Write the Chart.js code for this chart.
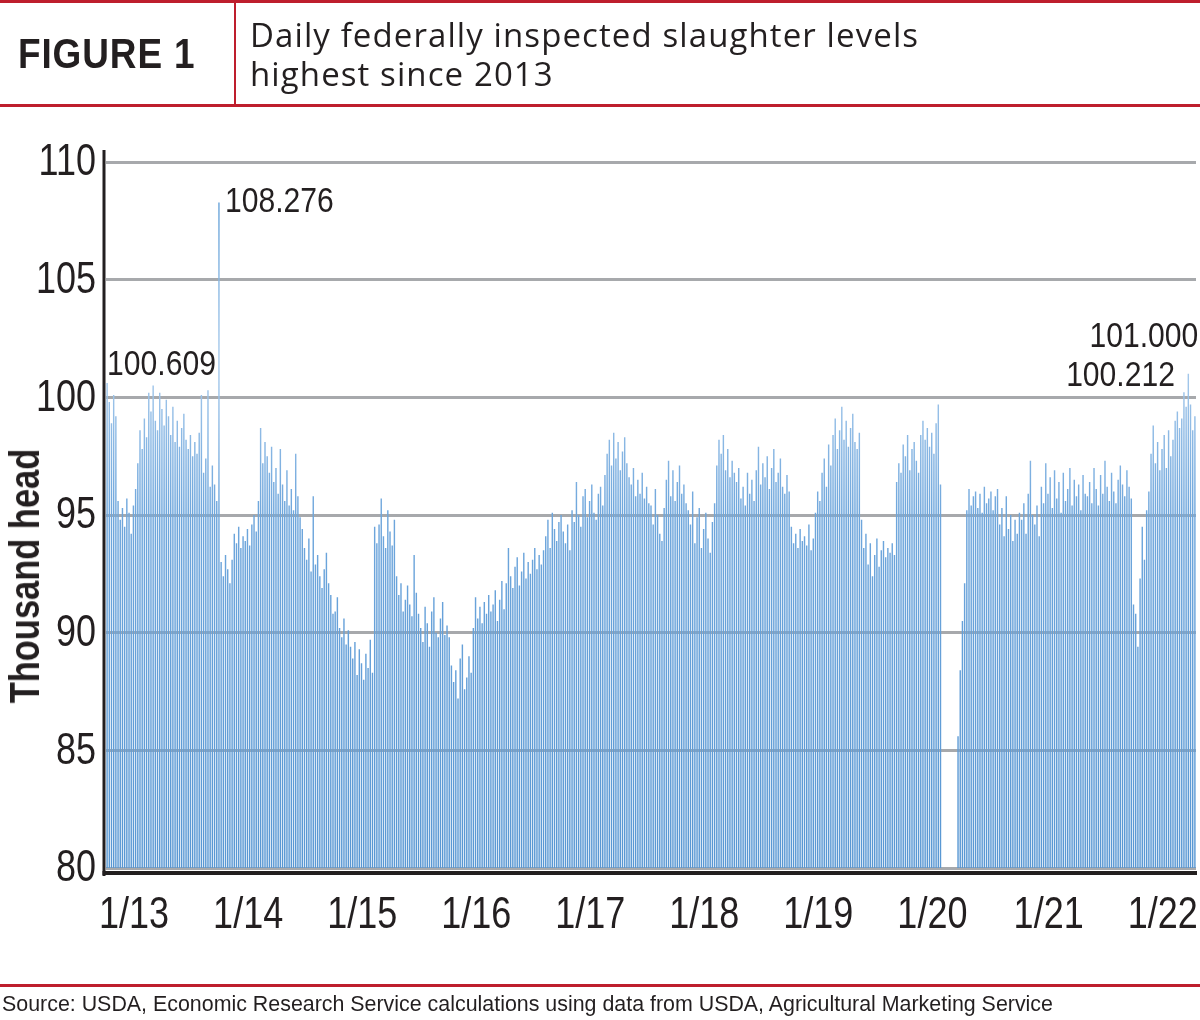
<!DOCTYPE html>
<html>
<head>
<meta charset="utf-8">
<script src="https://cdn.jsdelivr.net/npm/chart.js@4.4.1/dist/chart.umd.min.js"></script>
<style>
  html, body { margin: 0; padding: 0; background: #fff; }
  #page { position: relative; width: 1200px; height: 1020px; overflow: hidden; color: #231f20; font-family: "Liberation Sans", Arial, sans-serif; }
  #chart { position: absolute; left: 0; top: 0; }
  .red { position: absolute; background: #be1e2d; }
  #fig { position: absolute; left: 18px; top: 29px; font: bold 42px "Liberation Sans", Arial, sans-serif; letter-spacing: 1px; line-height: 50px;
         transform: scaleX(0.88); transform-origin: left center; white-space: nowrap; }
  #title { position: absolute; left: 250px; top: 15px; font: 33px "Open Sans", "Liberation Sans", sans-serif; letter-spacing: 1.1px; line-height: 39px; white-space: nowrap; }
  #ytitle { position: absolute; left: 25px; top: 576px; transform: translate(-50%, -50%) rotate(-90deg) scaleX(0.82); white-space: nowrap;
            font: bold 42px "Liberation Sans", Arial, sans-serif; line-height: 42px; }
  #source { position: absolute; left: 2px; top: 992px; font: 21.4px "Liberation Sans", Arial, sans-serif; white-space: nowrap; }
</style>
</head>
<body>
<div id="page">
  <canvas id="chart" width="1200" height="1020"></canvas>
  <div class="red" style="left:0;top:0;width:1200px;height:3px"></div>
  <div class="red" style="left:0;top:104px;width:1200px;height:3px"></div>
  <div class="red" style="left:234px;top:0;width:2px;height:105px"></div>
  <div id="fig">FIGURE 1</div>
  <div id="title">Daily federally inspected slaughter levels<br>highest since 2013</div>
  <div id="ytitle">Thousand head</div>
  <div class="red" style="left:0;top:984px;width:1200px;height:3px"></div>
  <div id="source">Source: USDA, Economic Research Service calculations using data from USDA, Agricultural Marketing Service</div>
</div>
<script>
// Highest daily federally inspected slaughter in each week, thousand head
const w2013 = [100.609, 99.8, 98.9, 100.1, 99.2, 95.6, 94.8, 95.3, 94.5, 95.7, 95.1, 94.2, 95.4, 96.1, 97.2, 98.6, 97.8, 99.1, 98.3, 100.2,
  99.4, 100.5, 99.0, 98.6, 100.2, 99.5, 98.8, 99.9, 99.2, 98.4, 99.6, 98.1, 99.0, 97.9, 98.7, 99.3, 98.2, 97.8, 98.4, 97.5,
  98.1, 97.6, 98.5, 100.1, 96.8, 97.4, 100.3, 96.2, 97.1, 96.3, 95.6, 108.276];
const w2014 = [93.0, 92.4, 93.3, 92.7, 92.1, 93.1, 94.2, 93.8, 94.5, 93.6, 94.1, 93.9, 94.4, 93.7, 94.6, 95.0, 94.3, 95.6, 98.7, 97.2,
  98.1, 97.5, 96.8, 97.9, 96.4, 97.0, 95.9, 97.8, 96.3, 95.6, 96.9, 95.4, 96.1, 95.2, 97.6, 95.8, 94.9, 94.4, 93.6, 93.1,
  94.0, 92.6, 95.8, 92.9, 93.3, 92.4, 91.9, 92.7, 93.4, 92.1, 91.6, 90.8];
const w2015 = [90.9, 91.5, 90.2, 89.8, 90.6, 89.5, 90.1, 89.4, 88.9, 89.6, 88.2, 89.3, 88.7, 88.0, 89.1, 88.5, 89.7, 88.3, 94.5, 93.8,
  94.6, 95.7, 94.1, 93.6, 95.2, 94.3, 93.7, 94.8, 92.4, 91.6, 92.1, 90.9, 91.4, 92.0, 91.2, 90.7, 93.3, 91.7, 90.8, 90.2,
  89.6, 91.1, 90.4, 89.4, 90.9, 91.5, 90.0, 89.8, 90.6, 91.3, 89.9, 90.3];
const w2016 = [89.8, 88.6, 87.9, 88.4, 87.2, 88.9, 89.5, 87.6, 88.1, 89.0, 88.3, 90.2, 91.5, 90.6, 91.1, 90.4, 91.3, 90.8, 91.6, 90.9,
  91.2, 91.8, 90.5, 91.4, 92.2, 91.0, 92.1, 93.6, 92.4, 91.9, 92.8, 93.2, 92.0, 92.6, 93.4, 92.3, 93.0, 92.5, 93.1, 93.6,
  92.7, 93.3, 92.9, 93.5, 94.1, 94.8, 93.6, 95.1, 94.4, 93.9, 94.7, 95.0];
const w2017 = [94.3, 93.8, 94.6, 93.5, 95.2, 94.7, 96.4, 95.0, 94.5, 95.8, 96.1, 94.9, 95.6, 96.3, 95.1, 94.8, 95.9, 96.2, 95.4, 96.7,
  97.6, 98.2, 97.1, 98.5, 97.4, 98.1, 96.9, 97.7, 98.3, 97.2, 96.6, 96.3, 97.0, 95.8, 96.5, 95.9, 96.8, 95.7, 96.2, 95.5,
  95.4, 94.6, 96.1, 95.0, 94.2, 93.9, 95.3, 96.5, 97.3, 95.8, 96.9, 95.6];
const w2018 = [96.4, 97.1, 95.9, 96.3, 95.5, 95.2, 94.6, 96.0, 93.8, 94.9, 95.3, 93.6, 94.4, 95.1, 94.0, 93.4, 94.7, 95.5, 97.1, 98.2,
  97.6, 98.4, 96.9, 97.8, 96.6, 97.3, 96.8, 96.4, 97.0, 95.7, 96.2, 95.4, 96.8, 95.9, 96.5, 95.6, 96.9, 97.9, 96.3, 97.2,
  96.6, 97.5, 96.1, 97.0, 97.8, 96.4, 96.8, 97.4, 96.2, 95.9, 96.7, 96.0];
const w2019 = [94.5, 93.8, 94.2, 93.6, 94.4, 93.9, 94.1, 93.7, 94.6, 93.5, 94.0, 95.1, 96.0, 95.6, 96.8, 97.4, 96.2, 98.0, 97.1, 98.4,
  99.1, 97.8, 98.6, 99.6, 98.2, 99.0, 97.9, 98.7, 99.3, 98.1, 97.8, 98.5, 94.8, 93.6, 94.2, 92.9, 93.8, 92.4, 93.3, 94.0,
  92.8, 93.5, 93.9, 93.2, 93.6, 93.4, 93.8, 93.3, 96.4, 97.2, 96.8, 98.0];
const w2020 = [97.5, 98.4, 96.9, 97.8, 98.1, 97.3, 96.8, 98.4, 99.0, 98.2, 98.7, 97.9, 98.5, 97.6, 98.9, 99.7, 96.3, 78.5, 76.2, 74.8,
  77.1, 78.9, 79.4, 79.8, 85.6, 88.4, 90.5, 92.1, 95.2, 96.1, 95.4, 95.8, 96.0, 95.3, 95.9, 95.1, 96.2, 95.5, 95.7, 96.0,
  95.2, 95.8, 96.1, 94.6, 95.3, 94.1, 95.8, 94.4, 95.0, 93.9, 94.8, 94.2, 95.1];
const w2021 = [94.8, 95.5, 94.2, 95.9, 97.3, 95.0, 94.6, 95.4, 94.1, 96.2, 95.5, 97.2, 95.9, 96.6, 95.3, 96.9, 95.7, 96.4, 95.1, 96.8,
  95.6, 96.1, 97.0, 95.4, 96.5, 95.8, 96.3, 95.2, 96.7, 95.9, 95.8, 96.4, 95.5, 97.0, 96.1, 95.4, 96.7, 95.9, 97.3, 96.2,
  95.6, 96.8, 96.0, 95.5, 96.5, 97.1, 96.3, 95.8, 96.9, 96.2, 95.7, 91.2];
const w2022 = [90.8, 89.4, 92.3, 94.5, 93.1, 95.2, 96.0, 97.6, 98.8, 97.2, 98.1, 96.9, 97.8, 98.4, 97.0, 98.6, 97.5, 98.2, 99.0, 99.4,
  98.7, 99.1, 100.212, 99.6, 101.000, 99.7, 98.6, 99.2];

const years = [2013, 2014, 2015, 2016, 2017, 2018, 2019, 2020, 2021, 2022];
const yearSeries = [w2013, w2014, w2015, w2016, w2017, w2018, w2019, w2020, w2021, w2022];
const yearLabels = ["1/13", "1/14", "1/15", "1/16", "1/17", "1/18", "1/19", "1/20", "1/21", "1/22"];
const yTicks = [80, 85, 90, 95, 100, 105, 110];

// highlighted peaks: [week label, offset x, offset y, alignment]
const callouts = [
  ["2013-w1", 0, -18, "left"],
  ["2013-w52", 6, 0, "left"],
  ["2022-w23", -9, -16, "right"],
  ["2022-w25", 10, -36, "right"]
];

const weeks = [];
const values = [];
yearSeries.forEach(function (arr, i) {
  arr.forEach(function (v, k) {
    weeks.push(years[i] + "-w" + (k + 1));
    values.push(v);
  });
});

const sans = "'Liberation Sans', Arial, sans-serif";
let barFill = null;

// narrow text: Arial squeezed sideways, like the condensed face of the original
function narrowText(c, txt, x, y, align, sx) {
  c.save();
  c.translate(x, y);
  c.scale(sx, 1);
  c.textAlign = align;
  c.fillText(txt, 0, 0);
  c.restore();
}

const decor = {
  id: "decor",
  afterDraw(chart) {
    const c = chart.ctx, a = chart.chartArea;
    const xs = chart.scales.x, ys = chart.scales.y;
    c.save();
    c.strokeStyle = "#231f20";
    c.lineWidth = 3;
    c.beginPath(); c.moveTo(a.left - 2, a.top - 12); c.lineTo(a.left - 2, a.bottom + 8); c.stroke();
    c.lineWidth = 4;
    c.beginPath(); c.moveTo(a.left - 3.5, a.bottom + 5); c.lineTo(a.right + 1, a.bottom + 5); c.stroke();

    c.fillStyle = "#231f20";
    c.textBaseline = "middle";
    c.font = "45px " + sans;
    yTicks.forEach(function (v) {
      narrowText(c, String(v), a.left - 10, ys.getPixelForValue(v) + 1, "right", 0.8);
    });
    years.forEach(function (yr, i) {
      const idx = weeks.indexOf(yr + "-w1");
      narrowText(c, yearLabels[i], xs.getPixelForValue(idx) + 27, a.bottom + 48, "center", 0.8);
    });

    c.font = "35px " + sans;
    callouts.forEach(function (p) {
      const i = weeks.indexOf(p[0]);
      narrowText(c, values[i].toFixed(3), xs.getPixelForValue(i) + p[1], ys.getPixelForValue(values[i]) + p[2], p[3], 0.86);
    });
    c.restore();
  }
};

new Chart(document.getElementById("chart"), {
  type: "bar",
  data: {
    labels: weeks,
    datasets: [{
      data: values,
      backgroundColor: function (ctx) {
        const area = ctx.chart.chartArea;
        if (!area) return "#6fa8dc";
        if (!barFill) {
          barFill = ctx.chart.ctx.createLinearGradient(0, area.bottom, 0, area.top);
          barFill.addColorStop(0, "#5897d3");
          barFill.addColorStop(0.5, "#6ea6dc");
          barFill.addColorStop(0.72, "#a9cbec");
          barFill.addColorStop(1, "#5b9bd5");
        }
        return barFill;
      },
      barPercentage: 0.65,
      categoryPercentage: 1
    }]
  },
  options: {
    responsive: false,
    animation: false,
    devicePixelRatio: 1,
    layout: { padding: { top: 162, right: 4, bottom: 80, left: 0 } },
    plugins: { legend: { display: false }, tooltip: { enabled: false } },
    scales: {
      x: {
        grid: { display: false, drawTicks: false },
        border: { display: false },
        ticks: { display: false },
        afterFit: function (s) { s.height = 72; }
      },
      y: {
        z: 1,
        min: 80, max: 110,
        afterFit: function (s) { s.width = 106; },
        afterBuildTicks: function (s) { s.ticks = yTicks.map(function (v) { return { value: v }; }); },
        grid: { color: "#a7a9ac", lineWidth: 3, drawTicks: false },
        border: { display: false },
        ticks: { display: false }
      }
    }
  },
  plugins: [decor]
});
</script>
</body>
</html>
